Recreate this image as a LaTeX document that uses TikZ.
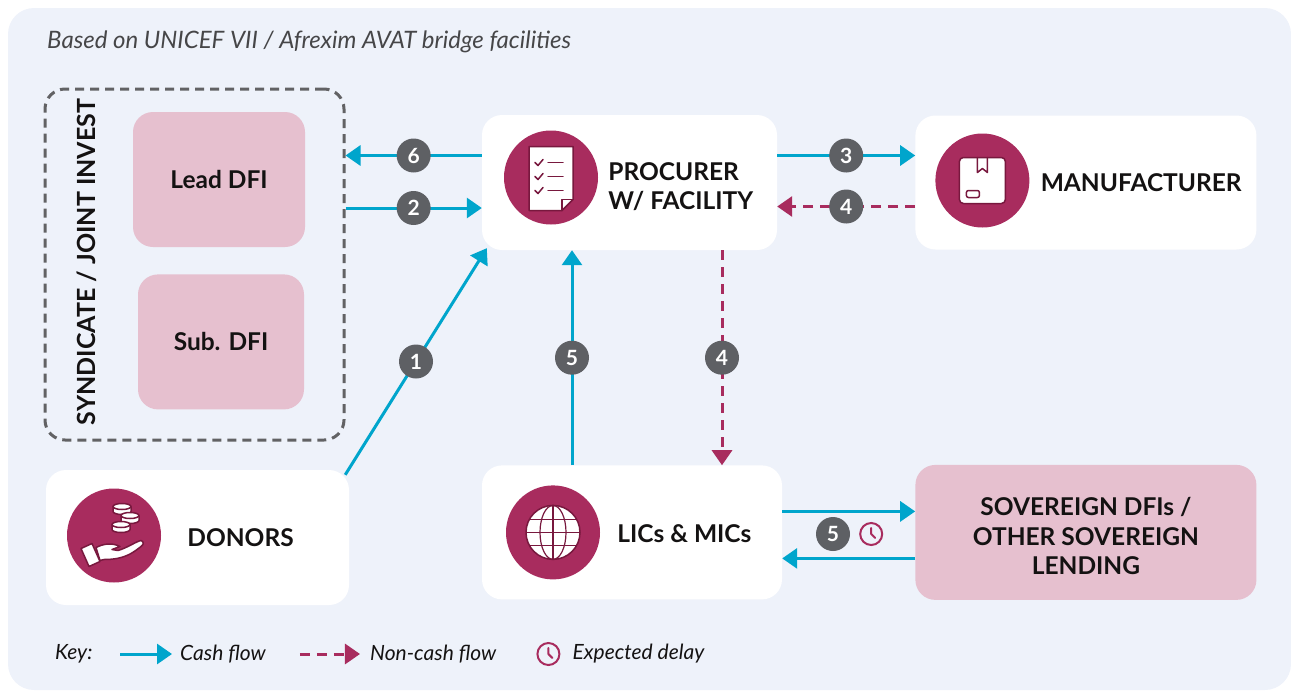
\documentclass[tikz,border=0pt]{standalone}
\usepackage{fontspec}
\setmainfont{Lato}
\usepackage{tikz}
\usetikzlibrary{positioning,arrows.meta}

\definecolor{panelbg}{RGB}{238,242,250}
\definecolor{dfipink}{RGB}{230,192,207}
\definecolor{plum}{RGB}{168,44,94}
\definecolor{plumdark}{RGB}{120,24,62}
\definecolor{cashblue}{RGB}{0,165,204}
\definecolor{badgegray}{RGB}{94,96,100}
\definecolor{dashgray}{RGB}{98,98,100}
\definecolor{inkblack}{RGB}{20,18,18}
\definecolor{titlegray}{RGB}{70,70,72}

\tikzset{node distance=2cm, auto,
  card/.style={fill=white, rounded corners=20pt, inner sep=0pt},
  dfibox/.style={fill=dfipink, rounded corners=20pt, inner sep=0pt,
    minimum width=172pt, minimum height=135pt,
    font=\fontsize{24.5}{28}\selectfont\bfseries, text=inkblack},
  icon/.style={circle, fill=plum, minimum size=94pt, inner sep=0pt},
  lbl/.style={inner sep=0pt, font=\fontsize{24.5}{29.5}\selectfont\bfseries,
    text=inkblack, align=left},
  badge/.style={circle, fill=badgegray, text=white, minimum size=34pt,
    inner sep=0pt, anchor=center, font=\fontsize{21}{21}\selectfont\bfseries},
  cash/.style={draw=cashblue, line width=3pt,
    -{Triangle[length=15pt,width=20pt]}},
  noncash/.style={draw=plum, line width=3pt, dash pattern=on 10pt off 7pt,
    -{Triangle[length=15pt,width=20pt]}},
  iconline/.style={draw=plumdark, line width=1.5pt, line cap=round,
    line join=round},
  keytext/.style={inner sep=0pt, anchor=west,
    font=\fontsize{21}{25}\selectfont\itshape, text=inkblack},
  clockicon/.style={circle, draw=plum, line width=2pt, minimum size=22pt,
    inner sep=0pt}
}

\begin{document}
\begin{tikzpicture}[x=1pt, y=-1pt]

  \useasboundingbox (0,0) rectangle (1291,694);
  \fill[panelbg, rounded corners=26pt] (8,8) rectangle (1291,690);

  \node[anchor=west, inner sep=0pt, text=titlegray,
        font=\fontsize{24}{28}\selectfont\itshape] (title) at (47,42)
        {Based on UNICEF VII / Afrexim AVAT bridge facilities};

  % syndicate group
  \node[draw=dashgray, dash pattern=on 9pt off 6pt, line width=3pt,
        rounded corners=20pt, minimum width=299pt, minimum height=351pt]
        (synd) at (194.5,264.5) {};
  \node[lbl, rotate=90, font=\fontsize{25}{29}\selectfont\bfseries]
        (syndlbl) at (87,262) {SYNDICATE / JOINT INVEST};
  \node[dfibox] (lead) at (219,179.5) {Lead DFI};
  \node[dfibox, minimum width=166pt] (sub) [below=27pt of lead, xshift=2pt] {Sub. DFI};

  % main cards
  \node[card, minimum width=295pt, minimum height=135pt] (proc) at (629.5,182.5) {};
  \node[card, minimum width=341pt, minimum height=134pt] (manu) [right=138pt of proc] {};
  \node[card, minimum width=300pt, minimum height=134pt] (lics) [below=215pt of proc, xshift=2.5pt] {};
  \node[fill=dfipink, rounded corners=20pt, minimum width=341pt, minimum height=135pt]
        (sov) [right=133pt of lics] {};
  \node[card, minimum width=303pt, minimum height=135pt] (donors) at (197.5,537.5) {};

  \node[icon, right=22pt of proc.west, yshift=5pt] (picon) {};
  \node[icon, right=20pt of manu.west, yshift=2pt] (micon) {};
  \node[icon, right=21pt of donors.west, yshift=2pt] (dicon) {};
  \node[icon, right=24pt of lics.west] (licon) {};

  \node[lbl, right=10pt of picon, yshift=-9pt] (plbl) {PROCURER\\W/ FACILITY};
  \node[lbl, right=11pt of micon, yshift=-2pt] (mlbl) {MANUFACTURER};
  \node[lbl, right=26pt of dicon, yshift=-2pt] (dlbl) {DONORS};
  \node[lbl, right=17pt of licon, yshift=-1pt] (llbl) {LICs \& MICs};
  \node[lbl, align=center, yshift=-4pt] (slbl) at (sov.center)
        {SOVEREIGN DFIs /\\OTHER SOVEREIGN\\LENDING};

  % checklist icon
  \begin{scope}[shift={(picon.center)}]
    \filldraw[fill=white, iconline] (-22,-31) -- (22,-31) -- (22,22) -- (11,33) -- (-22,33) -- cycle;
    \draw[iconline] (22,22) -- (11,22) -- (11,33);
    \foreach \y in {-15,-1,13} {
      \draw[iconline] (-16,\y) -- (-13,\y+3) -- (-8,\y-3);
      \draw[iconline] (-3,\y) -- (12,\y);
    }
  \end{scope}

  % parcel icon
  \begin{scope}[shift={(micon.center)}]
    \filldraw[fill=white, iconline, rounded corners=4pt] (-23,-23) rectangle (23,23);
    \draw[iconline] (-5,-23) -- (-5,-8) -- (0,-12) -- (5,-8) -- (5,-23);
    \draw[iconline, rounded corners=2pt] (-16,10) rectangle (-3,17);
  \end{scope}

  % hand and coins icon
  \begin{scope}[shift={(dicon.center)}]
    \foreach \cx/\cy in {8/-29, 16/-20, 7/-11} {
      \filldraw[fill=white, iconline] (\cx-9,\cy) -- (\cx-9,\cy+5)
        arc[start angle=180, end angle=0, x radius=9, y radius=3] -- (\cx+9,\cy) -- cycle;
      \filldraw[fill=white, iconline] (\cx,\cy) ellipse (9 and 3);
    }
    \filldraw[fill=white, iconline] (-18,12) .. controls (-10,8) and (-2,7) .. (6,11)
      -- (-2,14) -- (4,15) .. controls (14,12) and (22,6) .. (27,5)
      .. controls (30,6) and (30,9) .. (27,11) .. controls (18,18) and (10,24) .. (-10,24)
      -- (-14,25) -- cycle;
    \filldraw[fill=white, iconline] (-33,13) -- (-22,8) -- (-14,26) -- (-25,31) -- cycle;
  \end{scope}

  % globe icon
  \begin{scope}[shift={(licon.center)}]
    \filldraw[fill=white, draw=plumdark, line width=1.5pt] (0,0) circle (27);
    \draw[draw=plumdark, line width=1.2pt] (0,0) ellipse (13 and 27);
    \draw[draw=plumdark, line width=1.2pt] (0,-27) -- (0,27);
    \draw[draw=plumdark, line width=1.2pt] (-27,0) -- (27,0);
    \draw[draw=plumdark, line width=1.2pt] (-23.7,-13) -- (23.7,-13);
    \draw[draw=plumdark, line width=1.2pt] (-23.7,13) -- (23.7,13);
  \end{scope}

  % flows
  \draw[cash] ([yshift=27pt]proc.west) to node[badge] {6} ([yshift=27pt]proc.west -| synd.east);
  \draw[cash] ([yshift=-25.5pt]proc.west -| synd.east) to node[badge] {2} ([yshift=-25.5pt]proc.west);
  \draw[cash] ([xshift=-4pt,yshift=-5pt]donors.north east) to node[badge] {1} ([xshift=5pt,yshift=2pt]proc.south west);
  \draw[cash] ([yshift=27pt]proc.east) to node[badge] {3} ([yshift=27pt]proc.east -| manu.west);
  \draw[noncash] ([yshift=-24pt]manu.west) to node[badge] {4} ([yshift=-24pt]manu.west -| proc.east);
  \draw[cash] ([xshift=-60pt]lics.north) to node[badge] {5} ([xshift=-60pt]lics.north |- proc.south);
  \draw[noncash] ([xshift=92.5pt]proc.south) to node[badge] {4} ([xshift=92.5pt]proc.south |- lics.north);
  \draw[cash] ([yshift=21pt]lics.east) to ([yshift=21pt]lics.east -| sov.west);
  \draw[cash] ([yshift=-26pt]sov.west) to ([yshift=-26pt]sov.west -| lics.east);

  \node[badge] (b5) at (833,534) {5};
  \node[clockicon, right=9pt of b5] (clk) {};

  % key
  \node[keytext] (key) at (55,654) {Key:};
  \coordinate (ka) at (120,654);
  \coordinate [right=52pt of ka] (kb);
  \draw[cash] (ka) -- (kb);
  \node[keytext, right=8pt of kb] (kcash) {Cash flow};
  \coordinate [right=34pt of kcash] (kc);
  \coordinate [right=60pt of kc] (kd);
  \draw[noncash] (kc) -- (kd);
  \node[keytext, right=10pt of kd] (knon) {Non-cash flow};
  \node[clockicon, right=40pt of knon] (kclk) {};
  \node[keytext, right=12pt of kclk] (kdelay) {Expected delay};

  \foreach \c in {clk,kclk}
    \draw[plum, line width=2pt, line cap=round, line join=round]
      ([yshift=6pt]\c.center) -- (\c.center) -- ++(4,4);

\end{tikzpicture}
\end{document}
